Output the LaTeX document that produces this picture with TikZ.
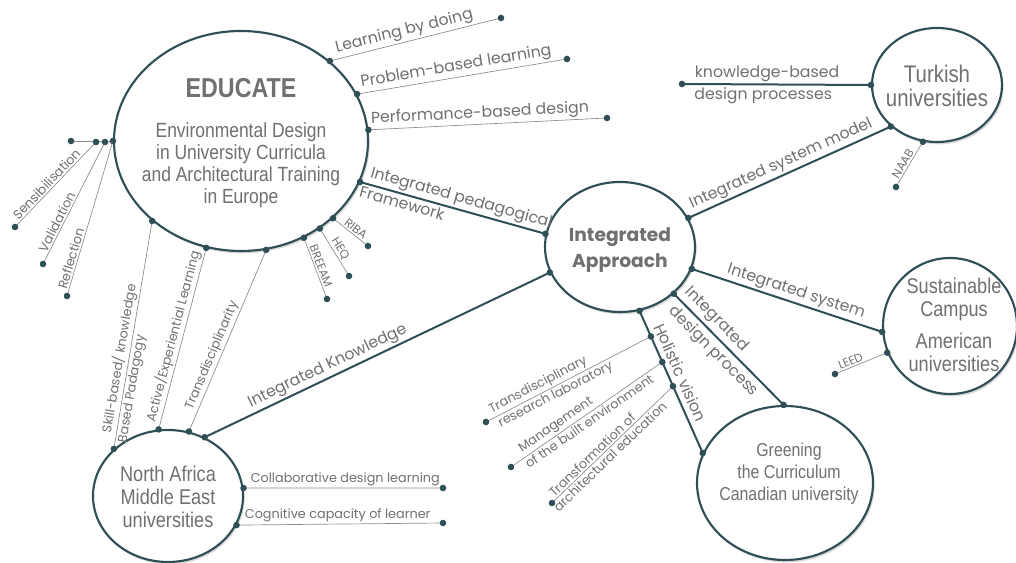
\documentclass[tikz,border=0pt]{standalone}
\usepackage{fontspec}
\setmainfont{Poppins}
\newfontfamily\nodefont[FakeStretch=0.85]{Liberation Sans}
\usetikzlibrary{shapes.geometric,shadows,calc}
\definecolor{linec}{RGB}{47,79,87}
\definecolor{txtc}{RGB}{112,112,112}
\definecolor{thinc}{RGB}{140,140,140}
\tikzset{
  bubble/.style={ellipse, draw=linec, line width=1.6pt, fill=white,
    drop shadow={opacity=0.3, shadow xshift=1.2pt, shadow yshift=-1.8pt}},
  bubbletext/.style={align=center, text=txtc},
  link/.style={draw=linec, line width=1.5pt},
  spoke/.style={draw=thinc, line width=0.5pt},
  lbl/.style={text=txtc, font=\fontsize{11.8}{13}\selectfont, inner sep=1.5pt},
  sml/.style={text=txtc, font=\fontsize{9.6}{10}\selectfont, inner sep=1.2pt},
  tinylbl/.style={text=txtc, font=\fontsize{8.8}{9}\selectfont, inner sep=1.2pt}
}

\begin{document}
\begin{tikzpicture}[x=0.75pt,y=0.75pt]
\useasboundingbox (0,0) rectangle (1016,563);

% Bubbles
\node[bubble, minimum width=190.5pt, minimum height=165pt] (edu) at (241,422) {};
\node[bubble, minimum width=112.5pt, minimum height=97.5pt] (ia) at (620,316) {};
\node[bubble, minimum width=112.5pt, minimum height=99pt] (mena) at (168,67) {};
\node[bubble, minimum width=97.5pt, minimum height=85.5pt] (tur) at (937,478) {};
\node[bubble, minimum width=100.5pt, minimum height=102pt] (sus) at (950,237) {};
\node[bubble, minimum width=132pt, minimum height=115.5pt] (gr) at (785,80) {};

% Bubble texts
\node[bubbletext, font=\nodefont\bfseries\fontsize{20.5}{22}\selectfont] (eduTitle) at (241,475) {EDUCATE};
\node[bubbletext, font=\nodefont\fontsize{15.4}{16.5}\selectfont] (eduText) at (241,398) {Environmental Design\\in University Curricula\\and Architectural Training\\in Europe};
\node[bubbletext, font=\bfseries\fontsize{14}{19}\selectfont] (iaText) at (620,313) {Integrated\\Approach};
\node[bubbletext, font=\nodefont\fontsize{16}{17}\selectfont] (menaText) at (168,66) {North Africa\\Middle East\\universities};
\node[bubbletext, font=\nodefont\fontsize{18}{18}\selectfont] (turText) at (937,477) {Turkish\\universities};
\node[bubbletext, font=\nodefont\fontsize{16}{17}\selectfont] (susText) at (954,238) {Sustainable\\Campus\\[7pt]American\\universities};
\node[bubbletext, font=\nodefont\fontsize{14}{16.5}\selectfont] (grText) at (789,89) {Greening\\the Curriculum\\Canadian university};

% Free ends
\coordinate (lbdE) at (501,545);
\coordinate (pblE) at (567,504);
\coordinate (pbdE) at (607,445);
\coordinate (ribaE) at (368,317);
\coordinate (heqE) at (349,287);
\coordinate (breE) at (327,264);
\coordinate (sensE) at (15,336);
\coordinate (valE) at (43,299);
\coordinate (refE) at (67,267);
\coordinate (leftE) at (71,422);
\coordinate (sensD) at (96,421);
\coordinate (valD) at (105,421);
\coordinate (collE) at (443,75);
\coordinate (cogE) at (443,40);
\coordinate (kbE) at (682,479);
\coordinate (naabE) at (896,376);
\coordinate (leedE) at (835,189);
\coordinate (trE) at (486,141);
\coordinate (mgE) at (511,96);
\coordinate (tfE) at (552,60);
\coordinate (hv1) at ($(ia.-73)!0.18!(gr.160)$);
\coordinate (hv2) at ($(ia.-73)!0.36!(gr.160)$);
\coordinate (hv3) at ($(ia.-73)!0.53!(gr.160)$);

% EDUCATE spokes
\draw[spoke] (edu.42) -- (lbdE) node[lbl, sloped, above, pos=0.45] {Learning by doing};
\draw[spoke] (edu.22) -- (pblE) node[lbl, sloped, above, pos=0.48] {Problem-based learning};
\draw[spoke] (edu.5) -- (pbdE) node[lbl, sloped, above, pos=0.47] {Performance-based design};
\draw[spoke] (edu.-40) -- (ribaE) node[tinylbl, sloped, above, pos=0.55] {RIBA};
\draw[spoke] (edu.-48) -- (heqE) node[tinylbl, sloped, above, pos=0.5] {HEQ};
\draw[spoke] (edu.-57) -- (breE) node[tinylbl, sloped, above, pos=0.5] {BREEAM};
\draw[spoke] (leftE) -- (edu.180);
\draw[spoke] (sensE) -- (sensD) node[sml, sloped, above, pos=0.45] {Sensibilisation};
\draw[spoke] (valE) -- (valD) node[sml, sloped, above, pos=0.32] {Validation};
\draw[spoke] (refE) -- (edu.180) node[sml, sloped, above, pos=0.23] {Reflection};

% North Africa spokes
\draw[spoke] (mena.139) -- (edu.-138) node[sml, sloped, above, pos=0.39] {Skill-based/ knowledge} node[sml, sloped, below, pos=0.27] {Based Padagogy};
\draw[spoke] (mena.98) -- (edu.-108) node[sml, sloped, above, pos=0.5] {Active/Experiential Learning};
\draw[spoke] (mena.72) -- (edu.-77) node[sml, sloped, above, pos=0.4] {Transdisciplinarity};
\draw[spoke] (mena.6) -- (collE) node[sml, above, pos=0.51] {Collaborative design learning};
\draw[spoke] (mena.-23) -- (cogE) node[sml, above, pos=0.49] {Cognitive capacity of learner};

% Integrated links
\draw[link] (edu.-19) -- (ia.170) node[lbl, sloped, above, pos=0.53] {Integrated pedagogical} node[lbl, sloped, below, pos=0.24] {Framework};
\draw[link] (mena.58) -- (ia.-160) node[lbl, sloped, above, pos=0.37] {Integrated Knowledge};
\draw[link] (ia.23) -- (tur.-138) node[lbl, sloped, above, pos=0.48] {Integrated system model};
\draw[link] (ia.-17) -- (sus.185) node[lbl, sloped, above, pos=0.53] {Integrated system};
\draw[link] (ia.-41) -- (gr.91) node[lbl, sloped, above=1pt, pos=0.31] {Integrated} node[lbl, sloped, below=1pt, pos=0.44] {design process};
\draw[link] (ia.-73) -- (gr.160) node[lbl, sloped, above=2.5pt, pos=0.47] {Holistic vision};

% Turkish and American spokes
\draw[link] (kbE) -- (tur.180) node[lbl, above, pos=0.45] {knowledge-based} node[lbl, below, pos=0.43] {design processes};
\draw[spoke] (naabE) -- (tur.-104) node[tinylbl, sloped, above, pos=0.45] {NAAB};
\draw[spoke] (leedE) -- (sus.203) node[tinylbl, sloped, above, pos=0.34] {LEED};

% Holistic vision spokes
\draw[spoke] (trE) -- (hv1) node[sml, sloped, above, pos=0.34] {Transdisciplinary} node[sml, sloped, below, pos=0.40] {research laboratory};
\draw[spoke] (mgE) -- (hv2) node[sml, sloped, above, pos=0.33] {Management} node[sml, sloped, below, pos=0.49] {of the built environment};
\draw[spoke] (tfE) -- (hv3) node[sml, sloped, above, pos=0.37] {Transformation of} node[sml, sloped, below, pos=0.44] {architectural education};

% Dots
\foreach \p in {edu.42, edu.22, edu.5, edu.-19, edu.-40, edu.-48, edu.-57, edu.-77, edu.-108, edu.-138, edu.180,
    lbdE, pblE, pbdE, ribaE, heqE, breE, sensE, valE, refE, leftE, sensD, valD,
    ia.170, ia.-160, ia.23, ia.-17, ia.-41, ia.-73,
    mena.139, mena.98, mena.72, mena.58, mena.6, mena.-23, collE, cogE,
    kbE, tur.180, tur.-138, tur.-104, naabE, sus.185, sus.203, leedE,
    gr.91, gr.160, hv1, hv2, hv3, trE, mgE, tfE}
  \fill[linec] (\p) circle (3.3);

\end{tikzpicture}
\end{document}
